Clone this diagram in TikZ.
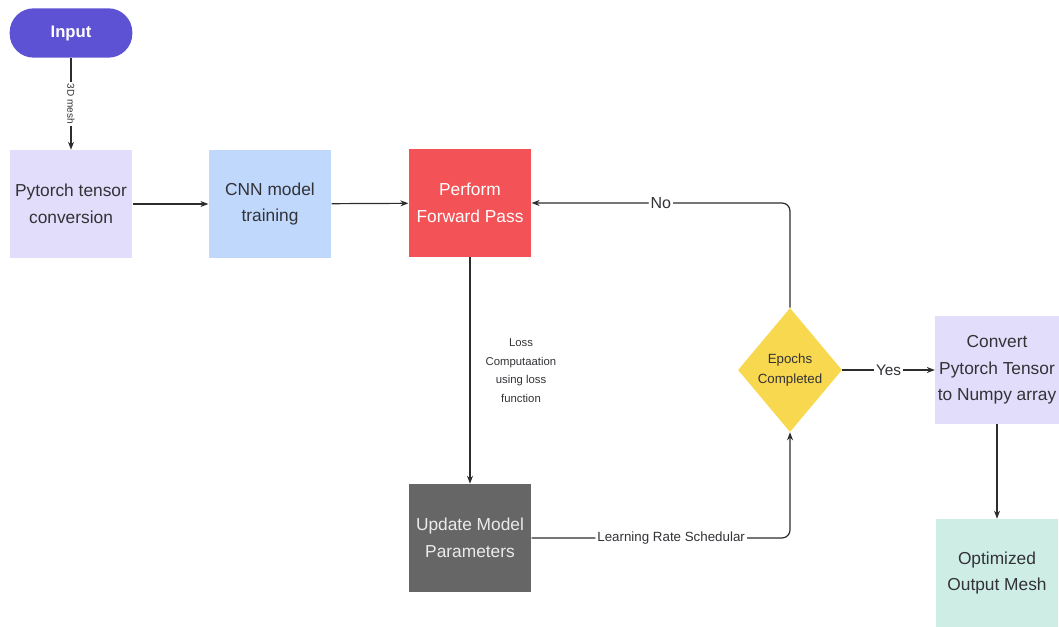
\documentclass[tikz,border=0pt]{standalone}
\usepackage{fontspec}
\setmainfont{Liberation Sans}
\usepackage{xcolor}
\usetikzlibrary{shapes.geometric,arrows.meta}
\definecolor{inputblue}{RGB}{93,82,212}
\definecolor{lavender}{RGB}{226,221,250}
\definecolor{skyblue}{RGB}{191,216,251}
\definecolor{fwdred}{RGB}{243,83,87}
\definecolor{updgray}{RGB}{102,102,102}
\definecolor{epochyellow}{RGB}{248,216,78}
\definecolor{mint}{RGB}{206,238,229}
\definecolor{textgray}{RGB}{50,50,55}
\definecolor{linegray}{RGB}{45,45,45}

\begin{document}
\begin{tikzpicture}[x=0.75pt,y=-0.75pt,
  box/.style={minimum width=92pt,minimum height=81pt,inner sep=2pt,align=center,
    font=\fontsize{13}{20}\selectfont,text=textgray},
  flow/.style={draw=linegray,line width=0.9pt,-{Stealth[length=6pt,width=4.5pt]}},
  tag/.style={fill=white,inner sep=1.5pt,text=textgray}]
\useasboundingbox (0,0) rectangle (1059,627);
\node[fill=inputblue,rounded corners=18pt,minimum width=92pt,minimum height=37pt,
  text=white,font=\fontsize{12.5}{15}\selectfont\bfseries] (input) at (71,33) {Input};
\node[box,fill=lavender] (tensor) at (71,204) {Pytorch tensor\\conversion};
\node[box,fill=skyblue] (cnn) at (270,204) {CNN model\\training};
\node[box,fill=fwdred,text=white] (fwd) at (470,203) {Perform\\Forward Pass};
\node[box,fill=updgray,text=white!92!black] (upd) at (470,538) {Update Model\\Parameters};
\node[diamond,fill=epochyellow,minimum width=78pt,minimum height=93pt,inner sep=0pt,
  align=center,font=\fontsize{10}{15}\selectfont,text=textgray] (epoch) at (790,370) {Epochs\\Completed};
\node[box,fill=lavender] (convert) at (997,370) {Convert\\Pytorch Tensor\\to Numpy array};
\node[box,fill=mint] (mesh) at (997,573) {Optimized\\Output Mesh};
\draw[flow] (input) -- node[tag,rotate=-90,font=\fontsize{7.5}{8}\selectfont] {3D mesh} (tensor);
\draw[flow] (tensor) -- (cnn);
\draw[flow] (cnn) -- (fwd);
\draw[flow] (fwd) -- node[right=8pt,align=center,text=textgray,font=\fontsize{8.5}{14}\selectfont]
  {Loss\\Computaation\\using loss\\function} (upd);
\draw[flow,rounded corners=6pt] (upd.east) -| node[pos=0.27,tag,font=\fontsize{10}{12}\selectfont]
  {Learning Rate Schedular} (epoch.south);
\draw[flow,rounded corners=6pt] (epoch.north) |- node[pos=0.75,tag,font=\fontsize{12}{14}\selectfont]
  {No} (fwd.east);
\draw[flow] (epoch) -- node[tag,font=\fontsize{11.5}{14}\selectfont] {Yes} (convert);
\draw[flow] (convert) -- (mesh);
\end{tikzpicture}
\end{document}
